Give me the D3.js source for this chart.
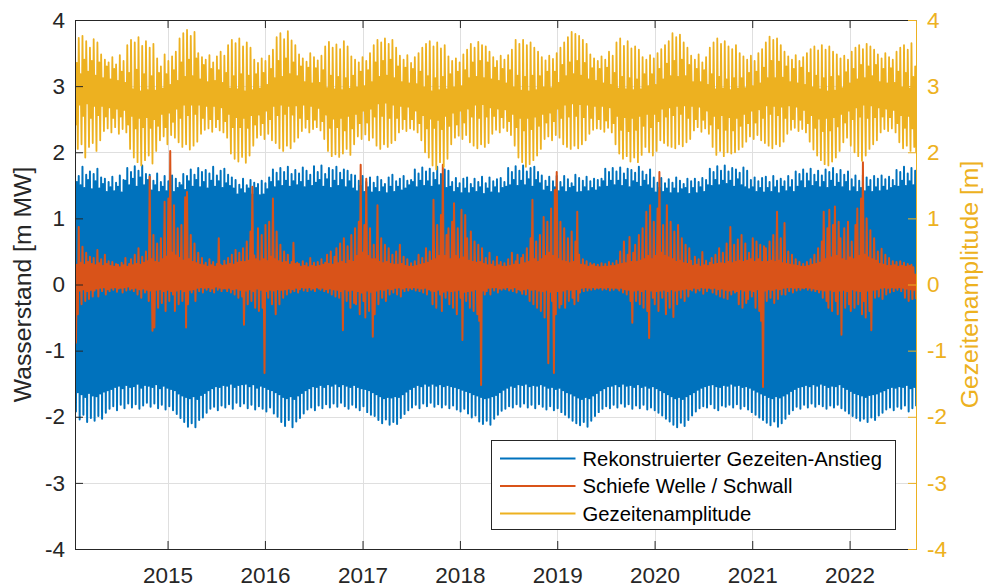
<!DOCTYPE html>
<html>
<head>
<meta charset="utf-8">
<script src="https://cdn.jsdelivr.net/npm/d3@7"></script>
<style>
  body { margin: 0; background: #fff; }
  svg text { font-family: "Liberation Sans", Arial, Helvetica, sans-serif; }
</style>
</head>
<body>
<svg id="chart" width="986" height="587"></svg>
<script>
// Weekly samples starting on this date; each week holds its high and low value.
const startDate = "2014-01-19";
const stepDays = 7;

// Reconstructed tide: weekly high-water and low-water extremes [m MW]
const blueHigh = [
1.74,1.55,1.64,1.50,1.78,1.46,1.66,1.58,1.71,1.44,
1.67,1.56,1.75,1.45,1.62,1.52,1.60,1.40,1.55,1.47,
1.63,1.41,1.54,1.48,1.65,1.39,1.58,1.57,1.76,1.50,
1.70,1.60,1.79,1.48,1.72,1.62,1.80,1.50,1.67,1.58,
1.66,1.42,1.57,1.50,1.68,1.40,1.55,1.48,1.64,1.41,
1.56,1.49,1.65,1.40,1.60,1.46,1.54,1.50,1.67,1.43,
1.64,1.56,1.74,1.48,1.66,1.58,1.76,1.47,1.70,1.55,
1.73,1.45,1.68,1.57,1.78,1.48,1.65,1.56,1.72,1.46,
1.75,1.53,1.66,1.49,1.62,1.45,1.58,1.36,1.51,1.44,
1.60,1.38,1.50,1.45,1.58,1.36,1.54,1.46,1.52,1.35,
1.57,1.36,1.53,1.44,1.62,1.55,1.74,1.47,1.69,1.56,
1.76,1.49,1.70,1.57,1.78,1.48,1.67,1.56,1.73,1.50,
1.68,1.55,1.77,1.47,1.72,1.57,1.66,1.49,1.79,1.54,
1.70,1.58,1.80,1.48,1.67,1.59,1.76,1.46,1.73,1.57,
1.78,1.49,1.69,1.58,1.74,1.47,1.72,1.56,1.66,1.45,
1.65,1.41,1.57,1.49,1.64,1.40,1.55,1.47,1.62,1.39,
1.54,1.46,1.63,1.40,1.58,1.47,1.52,1.38,1.62,1.48,
1.66,1.40,1.56,1.48,1.60,1.42,1.64,1.45,1.57,1.50,
1.58,1.55,1.74,1.47,1.68,1.57,1.77,1.49,1.71,1.56,
1.75,1.48,1.69,1.58,1.78,1.50,1.67,1.57,1.74,1.46,
1.72,1.48,1.55,1.40,1.61,1.46,1.53,1.38,1.60,1.45,
1.62,1.38,1.52,1.46,1.60,1.40,1.55,1.47,1.63,1.37,
1.53,1.45,1.62,1.39,1.56,1.47,1.59,1.38,1.61,1.46,
1.55,1.48,1.76,1.50,1.70,1.58,1.79,1.49,1.72,1.57,
1.80,1.50,1.71,1.59,1.76,1.48,1.78,1.58,1.70,1.53,
1.65,1.42,1.57,1.48,1.63,1.40,1.56,1.47,1.64,1.41,
1.55,1.47,1.64,1.40,1.59,1.46,1.53,1.48,1.66,1.39,
1.61,1.40,1.57,1.47,1.63,1.41,1.56,1.46,1.60,1.42,
1.58,1.47,1.60,1.56,1.75,1.48,1.70,1.57,1.76,1.50,
1.71,1.57,1.77,1.49,1.68,1.58,1.75,1.47,1.73,1.56,
1.69,1.54,1.78,1.48,1.71,1.57,1.66,1.50,1.74,1.45,
1.62,1.39,1.54,1.46,1.61,1.40,1.53,1.45,1.59,1.38,
1.54,1.45,1.62,1.38,1.57,1.44,1.52,1.46,1.60,1.37,
1.56,1.46,1.60,1.38,1.55,1.47,1.61,1.40,1.58,1.50,
1.75,1.49,1.70,1.58,1.79,1.50,1.72,1.57,1.80,1.52,
1.71,1.57,1.76,1.48,1.74,1.59,1.69,1.50,1.77,1.47,
1.72,1.44,1.58,1.47,1.62,1.40,1.56,1.46,1.61,1.39,
1.63,1.46,1.55,1.40,1.64,1.47,1.57,1.38,1.60,1.48,
1.56,1.41,1.64,1.47,1.58,1.40,1.71,1.48,1.67,1.56,
1.74,1.46,1.68,1.56,1.75,1.49,1.66,1.55,1.72,1.47,
1.65,1.55,1.74,1.46,1.70,1.57,1.76,1.48,1.67,1.54,
1.73,1.47,1.66,1.55,1.71,1.41,1.59,1.47,1.65,1.40,
1.57,1.46,1.66,1.41,1.62,1.48,1.58,1.40,1.64,1.47,
1.60,1.41,1.65,1.48,1.59,1.42,1.63,1.46,1.58,1.49,
1.73,1.48,1.70,1.57,1.78,1.49,1.68,1.56,1.76,1.50,
1.72
];
const blueLow = [
-1.92,-1.63,-2.04,-1.66,-1.97,-1.70,-2.08,-1.64,-2.02,-1.68,
-2.06,-1.69,-1.99,-1.65,-2.03,-1.62,-1.94,-1.60,-1.88,-1.58,
-1.84,-1.55,-1.90,-1.53,-1.82,-1.57,-1.87,-1.52,-1.80,-1.55,
-1.86,-1.54,-1.81,-1.50,-1.88,-1.56,-1.83,-1.52,-1.79,-1.53,
-1.85,-1.55,-1.80,-1.51,-1.87,-1.57,-1.82,-1.53,-1.89,-1.56,
-1.84,-1.58,-1.90,-1.60,-1.96,-1.65,-2.02,-1.68,-2.08,-1.70,
-2.15,-1.72,-2.10,-1.69,-2.16,-1.73,-2.05,-1.67,-2.01,-1.64,
-1.94,-1.60,-1.88,-1.57,-1.85,-1.54,-1.90,-1.55,-1.83,-1.52,
-1.86,-1.53,-1.81,-1.50,-1.88,-1.55,-1.79,-1.52,-1.84,-1.51,
-1.80,-1.50,-1.87,-1.54,-1.82,-1.51,-1.89,-1.56,-1.84,-1.53,
-1.88,-1.55,-1.92,-1.58,-1.86,-1.60,-1.95,-1.63,-2.00,-1.66,
-2.08,-1.70,-2.14,-1.72,-2.05,-1.69,-2.16,-1.73,-2.07,-1.68,
-2.02,-1.64,-1.95,-1.60,-1.89,-1.57,-1.86,-1.54,-1.90,-1.55,
-1.83,-1.52,-1.87,-1.55,-1.81,-1.51,-1.86,-1.53,-1.80,-1.50,
-1.85,-1.54,-1.79,-1.51,-1.84,-1.53,-1.88,-1.55,-1.82,-1.52,
-1.86,-1.55,-1.90,-1.57,-1.84,-1.58,-1.93,-1.60,-1.97,-1.63,
-1.99,-1.66,-2.05,-1.69,-2.10,-1.72,-2.04,-1.70,-2.12,-1.71,
-2.08,-1.69,-2.11,-1.70,-2.02,-1.66,-1.96,-1.62,-1.90,-1.58,
-1.86,-1.55,-1.82,-1.52,-1.87,-1.54,-1.80,-1.50,-1.84,-1.53,
-1.79,-1.50,-1.85,-1.53,-1.81,-1.51,-1.86,-1.54,-1.82,-1.52,
-1.87,-1.54,-1.83,-1.55,-1.89,-1.57,-1.92,-1.59,-1.88,-1.61,
-1.95,-1.63,-2.01,-1.66,-1.98,-1.68,-2.07,-1.70,-2.11,-1.72,
-2.06,-1.71,-2.12,-1.69,-2.03,-1.67,-1.97,-1.63,-1.91,-1.59,
-1.88,-1.56,-1.84,-1.53,-1.86,-1.55,-1.81,-1.51,-1.85,-1.52,
-1.80,-1.50,-1.86,-1.54,-1.82,-1.52,-1.87,-1.53,-1.81,-1.51,
-1.85,-1.53,-1.89,-1.56,-1.84,-1.55,-1.90,-1.58,-1.87,-1.56,
-1.93,-1.60,-1.97,-1.63,-2.01,-1.65,-2.06,-1.68,-2.10,-1.71,
-2.13,-1.73,-2.08,-1.70,-2.15,-1.72,-2.06,-1.68,-1.99,-1.64,
-1.93,-1.60,-1.88,-1.57,-1.84,-1.54,-1.87,-1.53,-1.82,-1.51,
-1.86,-1.54,-1.80,-1.50,-1.85,-1.53,-1.81,-1.52,-1.88,-1.55,
-1.83,-1.51,-1.87,-1.55,-1.82,-1.53,-1.89,-1.56,-1.86,-1.54,
-1.90,-1.57,-1.94,-1.60,-1.98,-1.63,-2.03,-1.66,-2.07,-1.69,
-2.12,-1.72,-2.16,-1.70,-2.09,-1.73,-2.14,-1.69,-2.05,-1.66,
-1.98,-1.63,-1.92,-1.59,-1.87,-1.56,-1.84,-1.54,-1.86,-1.52,
-1.81,-1.51,-1.87,-1.54,-1.90,-1.55,-1.83,-1.52,-1.85,-1.53,
-1.82,-1.50,-1.86,-1.53,-1.81,-1.52,-1.88,-1.55,-1.84,-1.54,
-1.89,-1.56,-1.93,-1.59,-1.97,-1.62,-2.01,-1.65,-2.05,-1.67,
-2.09,-1.70,-2.13,-1.72,-2.07,-1.69,-2.15,-1.71,-2.10,-1.68,
-2.03,-1.65,-1.96,-1.61,-1.90,-1.58,-1.85,-1.55,-1.88,-1.54,
-1.82,-1.52,-1.86,-1.54,-1.80,-1.51,-1.85,-1.53,-1.81,-1.50,
-1.84,-1.52,-1.88,-1.55,-1.83,-1.53,-1.86,-1.54,-1.82,-1.51,
-1.87,-1.55,-1.91,-1.58,-1.95,-1.61,-1.99,-1.64,-2.02,-1.66,
-2.06,-1.68,-2.03,-1.70,-2.08,-1.67,-2.01,-1.66,-2.05,-1.65,
-1.98,-1.62,-1.94,-1.60,-1.89,-1.57,-1.86,-1.55,-1.90,-1.56,
-1.85,-1.54,-1.88,-1.55,-1.83,-1.52,-1.92,-1.57,-1.87,-1.55,
-1.84
];

// Surge (schiefe Welle / Schwall): weekly maximum and minimum [m]
const surgeHigh = [
0.36,0.30,0.87,0.33,0.57,0.30,0.48,0.34,0.42,0.31,
0.40,0.29,0.52,0.32,0.38,0.28,0.45,0.31,0.35,0.28,
0.34,0.27,0.31,0.30,0.26,0.33,0.29,0.40,0.27,0.31,
0.38,0.29,0.45,0.31,0.55,0.30,0.42,0.33,0.50,0.35,
1.63,0.38,0.75,0.34,0.62,0.33,0.70,0.38,1.25,0.42,
1.30,2.02,0.48,1.20,0.44,0.85,0.40,0.90,0.36,1.32,
1.40,0.38,0.75,0.34,0.62,0.32,0.48,0.30,0.40,0.29,
0.33,0.27,0.38,0.29,0.34,0.27,0.31,0.70,0.30,0.28,
0.36,0.29,0.40,0.31,0.45,0.30,0.52,0.33,0.48,0.34,
0.55,0.34,0.65,0.36,0.80,1.48,0.44,0.38,0.85,0.35,
0.75,0.38,0.90,0.35,0.95,0.42,1.30,0.38,0.80,0.35,
0.60,0.33,0.50,0.34,0.45,0.30,0.34,0.63,0.31,0.33,
0.31,0.27,0.35,0.28,0.32,0.26,0.40,0.28,0.33,0.27,
0.34,0.28,0.38,0.30,0.33,0.45,0.31,0.50,0.30,0.42,
0.55,0.32,0.62,0.34,0.70,0.31,0.58,0.36,0.75,0.34,
0.85,0.43,0.95,1.81,0.48,0.90,1.60,0.43,0.85,0.38,
0.60,0.38,1.20,0.34,0.70,0.32,0.60,0.34,0.55,0.31,
0.45,0.30,0.50,0.30,0.60,0.31,0.42,0.28,0.38,0.27,
0.32,0.27,0.35,0.28,0.45,0.30,0.40,0.31,0.55,0.33,
0.50,0.36,1.28,0.38,0.90,0.43,1.05,1.81,0.43,0.75,
0.85,0.38,0.95,1.23,0.43,0.85,0.38,1.13,0.41,1.05,
0.70,0.36,0.80,0.34,0.65,0.33,0.60,0.34,0.55,0.31,
0.40,0.29,0.48,0.30,0.35,0.27,0.42,0.29,0.34,0.27,
0.32,0.27,0.38,0.28,0.48,0.30,0.35,0.45,0.30,0.40,
0.45,0.32,0.55,0.34,0.70,1.28,0.38,0.65,0.34,0.75,
0.38,1.02,0.43,0.95,0.48,1.15,0.43,1.43,1.70,0.38,
0.95,0.35,0.85,0.34,0.70,0.32,0.80,0.34,0.65,1.10,
0.45,0.30,0.38,0.29,0.35,0.27,0.32,0.29,0.31,0.27,
0.30,0.26,0.32,0.27,0.31,0.27,0.34,0.28,0.32,0.28,
0.36,0.30,0.50,0.31,0.65,0.32,0.45,0.72,0.34,0.48,
0.60,0.34,0.75,0.36,0.85,0.38,1.10,0.43,1.20,0.38,
0.95,0.43,1.15,1.70,0.48,0.90,0.43,1.20,0.41,0.95,
0.38,0.80,0.34,0.90,0.36,0.70,0.32,0.60,0.31,0.55,
0.36,0.28,0.42,0.30,0.38,0.27,0.49,0.29,0.36,0.28,
0.33,0.40,0.30,0.45,0.31,0.55,0.32,0.48,0.31,0.62,
0.34,0.87,0.32,0.60,0.34,0.68,0.36,0.75,0.34,0.62,
0.36,0.48,0.38,0.70,0.34,0.65,0.38,0.60,0.34,0.58,
0.55,0.34,0.65,0.36,0.75,0.34,1.10,0.36,0.70,0.32,
0.93,0.31,0.50,0.30,0.45,0.29,0.38,0.28,0.34,0.27,
0.31,0.27,0.34,0.28,0.38,0.30,0.45,0.31,0.55,0.33,
0.65,1.10,0.38,0.85,1.13,0.41,0.90,1.18,0.43,0.95,
0.70,0.38,0.85,0.36,0.95,0.41,0.65,0.38,0.90,1.15,
0.43,1.30,1.85,0.45,1.00,0.41,0.82,0.38,0.70,0.36,
0.50,0.31,0.54,0.30,0.45,0.28,0.40,0.28,0.35,0.29,
0.34,0.27,0.35,0.28,0.33,0.27,0.31,0.28,0.30,0.26,
0.15
];
const surgeLow = [
-0.88,-0.45,-0.09,-0.30,-0.07,-0.25,-0.10,-0.22,-0.08,-0.18,
-0.09,-0.06,-0.18,-0.05,-0.10,-0.04,-0.15,-0.07,-0.10,-0.05,
-0.08,-0.04,-0.11,-0.06,-0.05,-0.12,-0.04,-0.09,-0.03,-0.08,
-0.06,-0.10,-0.05,-0.15,-0.07,-0.20,-0.06,-0.12,-0.08,-0.25,
-0.09,-0.70,-0.65,-0.08,-0.35,-0.07,-0.28,-0.10,-0.40,-0.08,
-0.25,-0.10,-0.15,-0.40,-0.09,-0.30,-0.07,-0.25,-0.10,-0.65,
-0.30,-0.08,-0.12,-0.07,-0.25,-0.05,-0.10,-0.04,-0.12,-0.05,
-0.08,-0.04,-0.10,-0.06,-0.12,-0.03,-0.08,-0.05,-0.10,-0.06,
-0.06,-0.10,-0.05,-0.12,-0.07,-0.15,-0.06,-0.20,-0.08,-0.18,
-0.61,-0.09,-0.30,-0.07,-0.25,-0.10,-0.35,-0.06,-0.40,-0.08,
-0.35,-1.34,-0.10,-0.20,-0.08,-0.30,-0.09,-0.45,-0.07,-0.30,
-0.08,-0.20,-0.07,-0.15,-0.06,-0.12,-0.07,-0.10,-0.05,-0.12,
-0.07,-0.04,-0.09,-0.05,-0.10,-0.04,-0.08,-0.06,-0.10,-0.04,
-0.06,-0.08,-0.05,-0.10,-0.07,-0.12,-0.06,-0.15,-0.07,-0.18,
-0.08,-0.20,-0.10,-0.69,-0.07,-0.25,-0.09,-0.35,-0.08,-0.28,
-0.30,-0.10,-0.45,-0.12,-0.25,-0.50,-0.09,-0.40,-0.11,-0.79,
-0.45,-0.09,-0.30,-0.07,-0.20,-0.08,-0.25,-0.06,-0.15,-0.07,
-0.12,-0.05,-0.15,-0.04,-0.18,-0.06,-0.10,-0.04,-0.09,-0.05,
-0.07,-0.04,-0.09,-0.05,-0.10,-0.06,-0.12,-0.05,-0.15,-0.07,
-0.09,-0.30,-0.10,-0.35,-0.08,-0.15,-0.40,-0.11,-0.20,-0.09,
-0.30,-0.10,-0.35,-0.09,-0.45,-0.08,-0.20,-0.84,-0.11,-0.25,
-0.10,-0.35,-0.09,-0.40,-0.07,-0.45,-0.55,-1.52,-0.09,-0.15,
-0.10,-0.05,-0.15,-0.04,-0.09,-0.04,-0.12,-0.06,-0.08,-0.05,
-0.07,-0.04,-0.09,-0.06,-0.10,-0.04,-0.12,-0.07,-0.09,-0.14,
-0.07,-0.15,-0.06,-0.25,-0.08,-0.30,-0.07,-0.35,-0.09,-0.40,
-0.10,-0.50,-0.08,-1.19,-0.11,-0.25,-1.34,-0.45,-0.10,-0.35,
-0.30,-0.09,-0.35,-0.07,-0.25,-0.08,-0.20,-0.30,-0.07,-0.25,
-0.12,-0.05,-0.10,-0.04,-0.09,-0.05,-0.08,-0.04,-0.07,-0.05,
-0.06,-0.04,-0.08,-0.05,-0.07,-0.04,-0.09,-0.05,-0.08,-0.05,
-0.06,-0.09,-0.05,-0.12,-0.07,-0.15,-0.08,-0.25,-0.58,-0.09,
-0.25,-0.08,-0.30,-0.10,-0.35,-0.07,-0.40,-0.81,-0.09,-0.20,
-0.30,-0.10,-0.40,-0.09,-0.20,-0.08,-0.45,-0.10,-0.35,-0.07,
-0.49,-0.09,-0.30,-0.08,-0.20,-0.07,-0.25,-0.06,-0.18,-0.07,
-0.09,-0.05,-0.12,-0.06,-0.09,-0.04,-0.14,-0.05,-0.10,-0.05,
-0.06,-0.12,-0.05,-0.15,-0.07,-0.18,-0.06,-0.20,-0.08,-0.22,
-0.09,-0.15,-0.08,-0.12,-0.10,-0.30,-0.07,-0.35,-0.09,-0.28,
-0.22,-0.08,-0.18,-0.10,-0.35,-0.07,-0.40,-0.55,-1.55,-0.09,
-0.25,-0.07,-0.20,-0.08,-0.28,-0.06,-0.22,-0.07,-0.15,-0.05,
-0.15,-0.04,-0.10,-0.04,-0.12,-0.05,-0.09,-0.04,-0.08,-0.05,
-0.06,-0.04,-0.08,-0.05,-0.09,-0.06,-0.10,-0.07,-0.12,-0.08,
-0.20,-0.09,-0.25,-0.35,-0.08,-0.40,-0.10,-0.25,-0.45,-0.09,
-0.76,-0.08,-0.35,-0.10,-0.30,-0.40,-0.07,-0.35,-0.09,-0.30,
-0.10,-0.45,-0.25,-0.50,-0.09,-0.40,-0.69,-0.08,-0.20,-0.07,
-0.18,-0.05,-0.22,-0.04,-0.15,-0.05,-0.12,-0.04,-0.10,-0.05,
-0.08,-0.04,-0.10,-0.05,-0.20,-0.06,-0.25,-0.07,-0.22,-0.08,
-0.22
];

// Tidal amplitude (right axis): weekly upper and lower values [m]
const ampHigh = [
3.62,3.35,3.73,3.18,3.76,3.40,3.68,3.22,3.58,3.38,
3.71,3.16,3.66,3.36,3.48,3.12,3.40,3.30,3.36,3.10,
3.44,3.26,3.33,3.08,3.47,3.22,3.38,3.05,3.62,3.20,
3.70,2.95,3.66,3.25,3.74,2.92,3.61,3.18,3.68,2.94,
3.58,3.15,3.64,2.93,3.42,3.20,3.30,2.96,3.48,3.18,
3.38,3.02,3.45,3.24,3.52,3.08,3.72,3.36,3.80,3.14,
3.85,3.40,3.76,3.15,3.82,3.42,3.50,3.10,3.44,3.32,
3.40,3.06,3.47,3.26,3.36,3.08,3.45,3.24,3.52,3.05,
3.46,3.20,3.62,2.96,3.70,3.15,3.65,2.95,3.72,3.18,
3.60,2.92,3.66,3.16,3.58,2.94,3.40,3.18,3.35,2.96,
3.42,3.20,3.38,3.02,3.46,3.26,3.55,3.12,3.74,3.38,
3.80,3.14,3.71,3.42,3.83,3.18,3.69,3.36,3.62,3.15,
3.48,3.30,3.42,3.06,3.37,3.28,3.50,3.04,3.44,3.27,
3.39,3.05,3.46,3.24,3.60,2.97,3.67,3.16,3.58,2.95,
3.63,3.14,3.56,2.94,3.68,3.12,3.60,2.96,3.45,3.16,
3.40,2.98,3.36,3.22,3.44,3.00,3.38,3.24,3.50,3.06,
3.62,3.36,3.70,3.14,3.66,3.38,3.72,3.16,3.64,3.40,
3.70,3.12,3.58,3.30,3.46,3.06,3.40,3.28,3.47,3.04,
3.35,3.26,3.44,3.03,3.50,3.22,3.58,2.98,3.64,3.15,
3.68,2.92,3.60,3.12,3.66,2.94,3.57,3.14,3.62,2.95,
3.45,3.18,3.38,2.98,3.42,3.22,3.36,3.00,3.48,3.24,
3.55,3.12,3.64,3.36,3.58,3.14,3.67,3.38,3.62,3.12,
3.60,3.36,3.52,3.10,3.44,3.28,3.38,3.08,3.46,3.26,
3.40,3.04,3.47,3.24,3.55,2.98,3.70,3.16,3.64,2.93,
3.70,3.14,3.62,2.92,3.66,3.16,3.58,2.94,3.52,3.15,
3.44,2.98,3.39,3.22,3.46,2.97,3.41,3.22,3.50,3.05,
3.58,3.32,3.66,3.15,3.74,3.36,3.82,3.18,3.79,3.38,
3.76,3.16,3.70,3.35,3.64,3.10,3.48,3.27,3.42,3.08,
3.38,3.26,3.45,3.04,3.40,3.28,3.52,3.02,3.46,3.20,
3.66,2.96,3.72,3.14,3.61,2.95,3.68,3.12,3.57,2.94,
3.60,3.10,3.55,2.95,3.44,3.18,3.40,3.00,3.47,3.18,
3.42,3.02,3.50,3.26,3.56,3.10,3.62,3.34,3.68,3.15,
3.80,3.38,3.74,3.14,3.78,3.40,3.66,3.15,3.58,3.32,
3.46,3.06,3.40,3.26,3.48,3.06,3.36,3.24,3.44,3.02,
3.58,3.18,3.66,2.95,3.72,3.14,3.64,2.96,3.68,3.10,
3.60,2.94,3.56,3.12,3.62,2.96,3.50,3.12,3.45,2.97,
3.40,3.20,3.46,3.00,3.38,3.22,3.50,3.04,3.56,3.28,
3.66,3.12,3.75,3.38,3.70,3.12,3.72,3.37,3.62,3.13,
3.52,3.30,3.45,3.06,3.40,3.26,3.47,3.04,3.38,3.28,
3.44,3.02,3.50,3.20,3.56,2.98,3.60,3.16,3.54,2.95,
3.62,3.12,3.55,2.92,3.60,3.14,3.52,2.93,3.48,3.15,
3.42,2.97,3.46,3.21,3.40,3.04,3.52,3.26,3.58,3.10,
3.62,3.32,3.56,3.12,3.64,3.30,3.60,3.15,3.55,3.32,
3.48,3.06,3.42,3.26,3.50,3.04,3.44,3.27,3.40,3.05,
3.52,3.22,3.58,2.98,3.62,3.20,3.55,2.96,3.65,3.14,
3.30
];
const ampLow = [
2.42,2.05,2.72,2.12,2.55,1.92,2.74,2.08,2.52,2.14,
2.70,2.02,2.56,2.18,2.70,2.32,2.54,2.36,2.68,2.30,
2.52,2.38,2.66,2.28,2.54,2.35,2.64,2.30,2.42,2.05,
2.55,1.92,2.36,1.85,2.52,1.80,2.38,1.88,2.53,1.95,
2.37,1.83,2.50,2.02,2.40,2.18,2.58,2.24,2.38,2.12,
2.60,2.26,2.46,2.22,2.66,2.15,2.52,2.08,2.72,2.12,
2.56,2.04,2.72,2.10,2.58,2.16,2.72,2.28,2.52,2.34,
2.70,2.36,2.50,2.31,2.70,2.38,2.50,2.33,2.68,2.30,
2.47,2.22,2.58,1.98,2.38,1.90,2.53,1.86,2.38,1.93,
2.52,1.84,2.37,1.95,2.56,2.10,2.42,2.22,2.57,2.26,
2.44,2.20,2.63,2.28,2.50,2.18,2.70,2.14,2.56,2.06,
2.72,2.02,2.58,2.10,2.70,2.06,2.57,2.16,2.71,2.22,
2.52,2.32,2.72,2.37,2.50,2.30,2.70,2.35,2.49,2.38,
2.67,2.33,2.47,2.20,2.57,2.02,2.37,1.94,2.51,1.97,
2.38,1.93,2.52,1.98,2.33,2.05,2.55,1.96,2.36,2.12,
2.58,2.24,2.44,2.20,2.63,2.27,2.45,2.18,2.66,2.22,
2.54,2.10,2.74,2.05,2.55,2.12,2.75,2.08,2.52,2.14,
2.72,2.18,2.52,2.30,2.70,2.35,2.50,2.32,2.69,2.36,
2.50,2.34,2.63,2.30,2.44,2.18,2.56,2.00,2.36,1.92,
2.51,1.80,2.37,1.74,2.49,1.85,2.35,1.78,2.55,1.90,
2.40,2.12,2.60,2.22,2.42,2.25,2.63,2.20,2.45,2.26,
2.66,2.15,2.54,2.10,2.72,2.06,2.52,2.12,2.73,2.08,
2.54,2.14,2.68,2.28,2.55,2.34,2.66,2.30,2.53,2.37,
2.65,2.32,2.47,2.26,2.58,2.10,2.38,1.92,2.52,1.85,
2.33,1.78,2.52,1.82,2.35,1.88,2.54,1.95,2.40,2.05,
2.58,2.20,2.45,2.24,2.60,2.18,2.47,2.26,2.66,2.22,
2.52,2.12,2.72,2.08,2.54,2.05,2.74,2.10,2.55,2.06,
2.73,2.12,2.53,2.18,2.72,2.28,2.52,2.34,2.70,2.36,
2.50,2.35,2.70,2.31,2.48,2.37,2.68,2.30,2.44,2.12,
2.55,1.98,2.34,1.90,2.53,1.94,2.32,1.86,2.52,1.92,
2.34,1.85,2.55,1.96,2.40,2.08,2.58,2.00,2.38,1.95,
2.58,2.02,2.47,2.18,2.66,2.14,2.54,2.10,2.68,2.08,
2.56,2.06,2.70,2.12,2.58,2.09,2.71,2.15,2.52,2.20,
2.70,2.33,2.50,2.38,2.69,2.31,2.49,2.36,2.63,2.28,
2.42,2.08,2.55,1.96,2.36,2.02,2.56,1.94,2.34,2.00,
2.53,1.98,2.33,2.00,2.52,2.04,2.40,2.08,2.58,2.16,
2.44,2.24,2.63,2.20,2.45,2.26,2.65,2.18,2.52,2.14,
2.71,2.10,2.58,2.06,2.70,2.12,2.56,2.09,2.69,2.16,
2.52,2.28,2.71,2.34,2.50,2.37,2.69,2.32,2.49,2.35,
2.64,2.30,2.44,2.16,2.56,2.04,2.37,1.95,2.51,1.88,
2.32,1.82,2.52,1.80,2.33,1.86,2.53,1.92,2.39,2.02,
2.58,2.15,2.45,2.22,2.63,2.10,2.50,2.00,2.68,1.94,
2.54,1.87,2.72,1.95,2.52,2.05,2.71,2.12,2.53,2.18,
2.68,2.30,2.54,2.35,2.66,2.32,2.53,2.36,2.64,2.30,
2.44,2.15,2.56,2.06,2.37,2.10,2.55,2.02,2.36,2.08,
2.00
];

// Axis ticks and legend entries
const yearTicks = [2015, 2016, 2017, 2018, 2019, 2020, 2021, 2022];
const leftTicks = [-4, -3, -2, -1, 0, 1, 2, 3, 4];
const rightTicks = [-4, -3, -2, -1, 0, 1, 2, 3, 4];
const seriesNames = ["Rekonstruierter Gezeiten-Anstieg", "Schiefe Welle / Schwall", "Gezeitenamplitude"];
const seriesColors = ["#0072BD", "#D95319", "#EDB120"];

const W = 986, H = 587;
const margin = { left: 75, right: 70, top: 20, bottom: 38 };
const innerW = W - margin.left - margin.right;
const innerH = H - margin.top - margin.bottom;
const axisColor = "#262626";
const gridColor = "#dfdfdf";
const tickFont = 22.5, labelFont = 24.75, legendFont = 20.25;

const svg = d3.select("#chart");

const t0 = new Date(startDate + "T00:00:00Z");
const sampleDate = i => d3.utcDay.offset(t0, i * stepDays);
const halfStep = d => d3.utcHour.offset(d, stepDays * 12);
const nSamples = d3.max([blueHigh, blueLow, surgeHigh, surgeLow, ampHigh, ampLow], a => a.length);

const x = d3.scaleUtc()
  .domain([t0, d3.utcDay.offset(sampleDate(nSamples - 1), 3)])
  .range([margin.left, margin.left + innerW]);
const yL = d3.scaleLinear().domain([-4, 4]).range([margin.top + innerH, margin.top]);
const yR = d3.scaleLinear().domain([-4, 4]).range([margin.top + innerH, margin.top]);
const yearDates = yearTicks.map(yr => new Date(Date.UTC(yr, 0, 1)));
const plainNumber = d => String(d);

// Grid
const grid = svg.append("g");
grid.selectAll("line.vx").data(yearDates).join("line")
  .attr("x1", d => Math.round(x(d)) + 0.5).attr("x2", d => Math.round(x(d)) + 0.5)
  .attr("y1", margin.top).attr("y2", margin.top + innerH)
  .attr("stroke", gridColor).attr("stroke-width", 1);
grid.selectAll("line.hy").data(leftTicks).join("line")
  .attr("x1", margin.left).attr("x2", margin.left + innerW)
  .attr("y1", d => Math.round(yL(d)) + 0.5).attr("y2", d => Math.round(yL(d)) + 0.5)
  .attr("stroke", gridColor).attr("stroke-width", 1);

// Clip for the data
svg.append("defs").append("clipPath").attr("id", "plotClip")
  .append("rect").attr("x", margin.left).attr("y", margin.top)
  .attr("width", innerW).attr("height", innerH);

// Each week is drawn as a zigzag: high at the sample date, low half a week later
function zigzag(hi, lo) {
  const pts = [];
  for (let i = 0; i < hi.length; i++) {
    const d = sampleDate(i);
    pts.push([d, hi[i]]);
    if (i < lo.length) pts.push([halfStep(d), lo[i]]);
  }
  return pts;
}

const plot = svg.append("g").attr("clip-path", "url(#plotClip)");
const lineL = d3.line().x(d => x(d[0])).y(d => yL(d[1]));
const lineR = d3.line().x(d => x(d[0])).y(d => yR(d[1]));

plot.append("path").datum(zigzag(blueHigh, blueLow)).attr("d", lineL)
  .attr("fill", "none").attr("stroke", seriesColors[0]).attr("stroke-width", 2)
  .attr("stroke-linejoin", "round");
plot.append("path").datum(zigzag(surgeHigh, surgeLow)).attr("d", lineL)
  .attr("fill", "none").attr("stroke", seriesColors[1]).attr("stroke-width", 2)
  .attr("stroke-linejoin", "round");
plot.append("path").datum(zigzag(ampHigh, ampLow)).attr("d", lineR)
  .attr("fill", "none").attr("stroke", seriesColors[2]).attr("stroke-width", 1.8)
  .attr("stroke-linejoin", "round");

// Axes
function styleAxis(g, color) {
  g.selectAll("path.domain").attr("stroke", color).attr("stroke-width", 1);
  g.selectAll(".tick line").attr("stroke", color).attr("stroke-width", 1);
  g.selectAll("text").attr("fill", color).attr("font-size", tickFont)
    .attr("font-family", "Liberation Sans, Arial, sans-serif");
}

const xBottom = svg.append("g").attr("transform", `translate(0,${margin.top + innerH})`)
  .call(d3.axisBottom(x).tickValues(yearDates).tickFormat(d3.utcFormat("%Y"))
    .tickSizeInner(-8).tickSizeOuter(0).tickPadding(18));
styleAxis(xBottom, axisColor);

const xTop = svg.append("g").attr("transform", `translate(0,${margin.top})`)
  .call(d3.axisTop(x).tickValues(yearDates).tickFormat("")
    .tickSizeInner(-8).tickSizeOuter(0));
styleAxis(xTop, axisColor);

const yLeft = svg.append("g").attr("transform", `translate(${margin.left},0)`)
  .call(d3.axisLeft(yL).tickValues(leftTicks).tickFormat(plainNumber)
    .tickSizeInner(-8).tickSizeOuter(0).tickPadding(10));
styleAxis(yLeft, axisColor);

const yRight = svg.append("g").attr("transform", `translate(${margin.left + innerW},0)`)
  .call(d3.axisRight(yR).tickValues(rightTicks).tickFormat(plainNumber)
    .tickSizeInner(-8).tickSizeOuter(0).tickPadding(11));
styleAxis(yRight, seriesColors[2]);

// Axis titles
svg.append("text")
  .attr("transform", `translate(31,${margin.top + innerH / 2}) rotate(-90)`)
  .attr("text-anchor", "middle").attr("font-size", labelFont).attr("fill", axisColor)
  .text("Wasserstand [m MW]");
svg.append("text")
  .attr("transform", `translate(978,${margin.top + innerH / 2}) rotate(-90)`)
  .attr("text-anchor", "middle").attr("font-size", labelFont).attr("fill", seriesColors[2])
  .text("Gezeitenamplitude [m]");

// Legend
const legend = svg.append("g").attr("transform", "translate(491.5,440.5)");
legend.append("rect").attr("width", 404).attr("height", 89)
  .attr("fill", "#fff").attr("stroke", axisColor).attr("stroke-width", 1);
const rows = legend.selectAll("g.row").data(seriesNames).join("g")
  .attr("transform", (d, i) => `translate(0,${18 + i * 27.5})`);
rows.append("line").attr("x1", 8.5).attr("x2", 84)
  .attr("stroke", (d, i) => seriesColors[i]).attr("stroke-width", 2);
rows.append("text").attr("x", 91).attr("dy", "0.35em")
  .attr("font-size", legendFont).attr("fill", "#000").text(d => d);
</script>
</body>
</html>
